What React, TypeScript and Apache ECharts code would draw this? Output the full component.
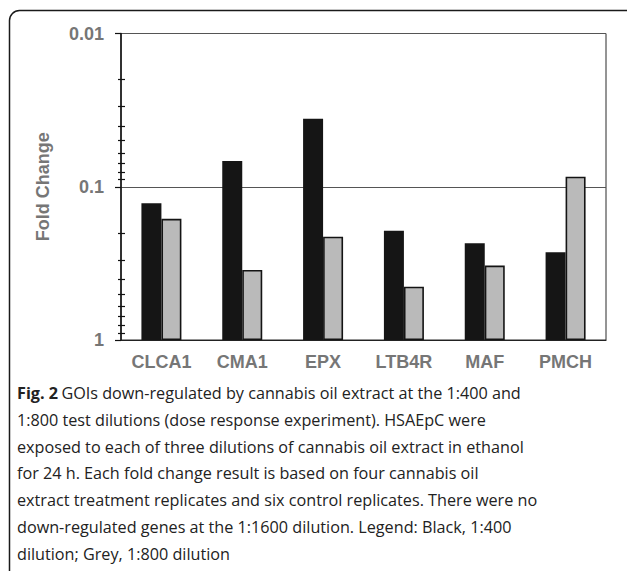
import React, { useEffect, useRef } from "react";
import * as echarts from "echarts";

const categories = ["CLCA1", "CMA1", "EPX", "LTB4R", "MAF", "PMCH"];
const dilution400 = [0.128, 0.068, 0.036, 0.194, 0.234, 0.268];
const dilution800 = [0.162, 0.349, 0.212, 0.449, 0.327, 0.086];
const yTickLabels = ["0.01", "0.1", "1"];
const minorTickValues = [
  0.02, 0.03, 0.04, 0.05, 0.06, 0.07, 0.08, 0.09,
  0.2, 0.3, 0.4, 0.5, 0.6, 0.7, 0.8, 0.9,
];
const captionLines = [
  "GOIs down-regulated by cannabis oil extract at the 1:400 and",
  "1:800 test dilutions (dose response experiment). HSAEpC were",
  "exposed to each of three dilutions of cannabis oil extract in ethanol",
  "for 24 h. Each fold change result is based on four cannabis oil",
  "extract treatment replicates and six control replicates. There were no",
  "down-regulated genes at the 1:1600 dilution. Legend: Black, 1:400",
  "dilution; Grey, 1:800 dilution",
];

export default function App() {
  const ref = useRef<HTMLDivElement>(null);
  useEffect(() => {
    if (!ref.current) return;
    const chart = echarts.init(ref.current, null, { renderer: "svg" });
    const axisFont = {
      fontFamily: "Liberation Sans, Arial, sans-serif",
      fontWeight: "bold" as const,
      fontSize: 18,
      color: "#767676",
    };
    const captionText =
      "{b|Fig. 2} {n|" + captionLines[0] + "}\n" +
      captionLines.slice(1).map((l) => "{n|" + l + "}").join("\n");
    chart.setOption({
      animation: false,
      backgroundColor: "#ffffff",
      grid: {
        left: 121,
        top: 33.5,
        right: 21,
        bottom: 231,
        show: true,
        borderColor: "#2a2a2a",
        borderWidth: 1,
        backgroundColor: "transparent",
      },
      xAxis: {
        type: "category",
        data: categories,
        axisLine: { lineStyle: { color: "#222", width: 1.2 } },
        axisTick: { show: false },
        axisLabel: { ...axisFont, margin: 13 },
        splitLine: { show: false },
      },
      yAxis: [
        {
          type: "log",
          logBase: 10,
          min: 0.01,
          max: 1,
          inverse: true,
          name: "Fold Change",
          nameLocation: "middle",
          nameRotate: 90,
          nameGap: 69,
          nameTextStyle: axisFont,
          axisLine: { show: true, lineStyle: { color: "#111", width: 1.5 } },
          axisTick: { show: true, length: 6, lineStyle: { color: "#111", width: 1.2 } },
          axisLabel: {
            ...axisFont,
            margin: 17,
            formatter: (v: number) => {
              const idx = Math.round(Math.log10(v) + 2);
              return yTickLabels[idx] ?? "";
            },
          },
          splitLine: { show: true, lineStyle: { color: "#555", width: 1 } },
        },
        {
          type: "value",
          min: -2,
          max: 0,
          inverse: true,
          position: "left",
          offset: -4,
          axisLine: { show: false },
          axisLabel: { show: false },
          splitLine: { show: false },
          axisTick: {
            show: true,
            length: 7,
            customValues: minorTickValues.map((v) => Math.log10(v)),
            lineStyle: { color: "#111", width: 1.2 },
          },
        },
      ],
      series: [
        {
          name: "1:400",
          type: "bar",
          data: dilution400,
          barWidth: 20,
          barGap: "0%",
          itemStyle: { color: "#151515" },
          z: 3,
        },
        {
          name: "1:800",
          type: "bar",
          data: dilution800,
          barWidth: 20,
          barGap: "0%",
          itemStyle: { color: "#bababa", borderColor: "#141414", borderWidth: 1.6 },
          z: 3,
        },
      ],
      graphic: [
        {
          type: "rect",
          shape: { x: 9.5, y: 10.5, width: 626, height: 620, r: 10 },
          style: { fill: "none", stroke: "#1a1a1a", lineWidth: 1.5 },
          silent: true,
        },
        {
          type: "text",
          left: 17,
          top: 385,
          style: {
            text: captionText,
            fill: "#222",
            rich: {
              b: {
                fontFamily: "Open Sans, sans-serif",
                fontWeight: "bold",
                fontSize: 16.2,
                lineHeight: 26.8,
                fill: "#222",
              },
              n: {
                fontFamily: "Open Sans, sans-serif",
                fontSize: 16.2,
                lineHeight: 26.8,
                fill: "#222",
              },
            },
          },
        },
      ],
    });
    return () => chart.dispose();
  }, []);
  return (
    <div
      ref={ref}
      style={{ position: "fixed", left: 0, top: 0, width: 627, height: 571 }}
    />
  );
}
